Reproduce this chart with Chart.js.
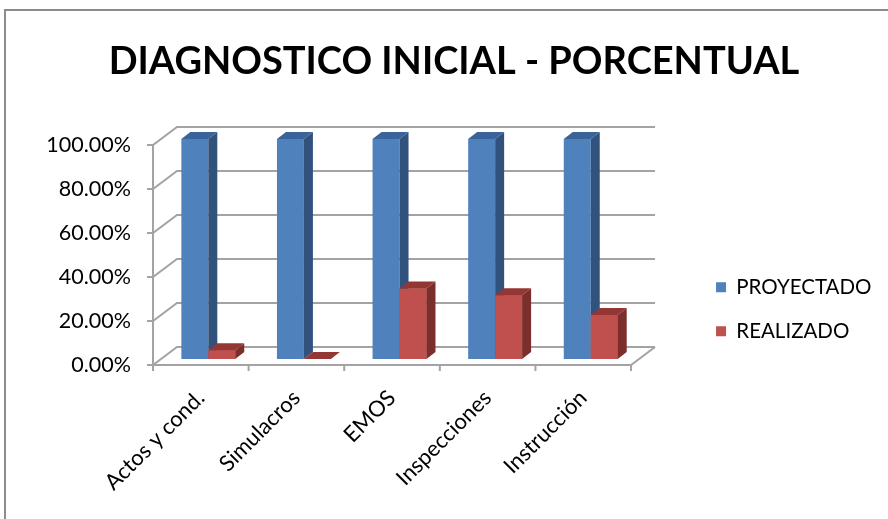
<!DOCTYPE html>
<html>
<head>
<meta charset="utf-8">
<script src="https://cdn.jsdelivr.net/npm/chart.js@4.4.0/dist/chart.umd.min.js"></script>
<style>
  html, body { margin: 0; padding: 0; background: #fff; }
</style>
</head>
<body>
<canvas id="chart" width="888" height="519"></canvas>
<script>
const categories = ['Actos y cond.', 'Simulacros', 'EMOS', 'Inspecciones', 'Instrucción']
const proyectado = [100, 100, 100, 100, 100]
const realizado = [4, 0, 32, 29, 20]
const yTicks = [0, 20, 40, 60, 80, 100]

// fake 3d: depth of the box and of the bars, in px
const depth = { x: 24, y: -18 }
const barDepth = { x: 9, y: -7 }
const barShift = { x: 7.5, y: -6 }
const faceColors = [
  { side: '#30527c', top: '#3a639a' },
  { side: '#7c2e2c', top: '#933634' },
]

function poly(ctx, pts, fill) {
  ctx.fillStyle = fill
  ctx.beginPath()
  ctx.moveTo(pts[0][0], pts[0][1])
  pts.slice(1).forEach(p => ctx.lineTo(p[0], p[1]))
  ctx.closePath()
  ctx.fill()
}

const frame3d = {
  id: 'frame3d',
  beforeDraw(chart) {
    const ctx = chart.ctx
    ctx.save()
    ctx.fillStyle = '#fff'
    ctx.fillRect(0, 0, chart.width, chart.height)
    ctx.strokeStyle = '#8c8c8c'
    ctx.lineWidth = 2
    ctx.strokeRect(5, 10, chart.width + 20, chart.height + 20)
    ctx.restore()
  },
  beforeDatasetsDraw(chart) {
    const { ctx, chartArea: a, scales: { x, y } } = chart
    ctx.save()
    ctx.strokeStyle = '#a3a3a3'
    ctx.lineWidth = 2
    ctx.beginPath()
    y.ticks.forEach(t => {
      const py = y.getPixelForValue(t.value)
      ctx.moveTo(a.left - 6, py)
      ctx.lineTo(a.left, py)
      ctx.lineTo(a.left + depth.x, py + depth.y)
      ctx.lineTo(a.right + depth.x, py + depth.y)
    })
    ctx.moveTo(a.left, a.top)
    ctx.lineTo(a.left, a.bottom)
    ctx.lineTo(a.right, a.bottom)
    ctx.lineTo(a.right + depth.x, a.bottom + depth.y)
    const n = categories.length
    for (let i = 0; i <= n; i++) {
      const px = a.left + i * (a.right - a.left) / n
      ctx.moveTo(px, a.bottom)
      ctx.lineTo(px, a.bottom + 6)
    }
    ctx.stroke()
    ctx.restore()
    // bars sit a bit back inside the box
    ctx.save()
    ctx.translate(barShift.x, barShift.y)
  },
  afterDatasetsDraw(chart) {
    const ctx = chart.ctx
    chart.data.datasets.forEach((ds, i) => {
      const meta = chart.getDatasetMeta(i)
      meta.data.forEach(bar => {
        if (i > 0) bar.draw(ctx)
        const x0 = bar.x - bar.width / 2
        const x1 = bar.x + bar.width / 2
        const top = bar.y
        const base = bar.base
        poly(ctx, [[x1, top], [x1 + barDepth.x, top + barDepth.y], [x1 + barDepth.x, base + barDepth.y], [x1, base]], faceColors[i].side)
        poly(ctx, [[x0, top], [x1, top], [x1 + barDepth.x, top + barDepth.y], [x0 + barDepth.x, top + barDepth.y]], faceColors[i].top)
      })
    })
    ctx.restore()
  }
}

new Chart(document.getElementById('chart'), {
  type: 'bar',
  data: {
    labels: categories,
    datasets: [
      {
        label: 'PROYECTADO',
        data: proyectado,
        backgroundColor: '#4f81bd',
        borderWidth: 0,
        barPercentage: 1,
        categoryPercentage: 0.564,
        clip: false,
      },
      {
        label: 'REALIZADO',
        data: realizado,
        backgroundColor: '#c0504d',
        borderWidth: 0,
        barPercentage: 1,
        categoryPercentage: 0.564,
        clip: false,
      }
    ]
  },
  options: {
    responsive: false,
    animation: false,
    events: [],
    layout: { padding: { top: 10, left: 26.5, right: 6.5, bottom: 0 } },
    plugins: {
      title: {
        display: true,
        text: 'DIAGNOSTICO INICIAL - PORCENTUAL',
        color: '#000',
        font: { family: 'Lato', size: 38, weight: 'bold' },
        padding: { top: 29, bottom: 60.4 }
      },
      legend: {
        position: 'right',
        align: 'end',
        fullSize: false,
        maxWidth: 210,
        labels: {
          boxWidth: 10,
          boxHeight: 10,
          padding: 23.5,
          color: '#000',
          font: { family: 'Lato', size: 20.5 }
        }
      },
      tooltip: { enabled: false }
    },
    scales: {
      x: {
        grid: { display: false, drawTicks: false },
        border: { display: false },
        ticks: {
          minRotation: 45,
          maxRotation: 45,
          padding: 20,
          color: '#000',
          font: { family: 'Lato', size: 22 }
        },
        afterFit: s => { s.height = 154 }
      },
      y: {
        min: 0,
        max: 100,
        grid: { display: false, drawTicks: false },
        border: { display: false },
        ticks: {
          padding: 22,
          color: '#000',
          font: { family: 'Lato', size: 21.5 },
          callback: v => v.toFixed(2) + '%'
        },
        afterBuildTicks: s => { s.ticks = yTicks.map(v => ({ value: v })) },
        afterFit: s => { s.width = 126.5 }
      },
      y2: {
        type: 'linear',
        position: 'right',
        grid: { display: false, drawTicks: false },
        border: { display: false },
        ticks: { display: false },
        afterFit: s => { s.width = 61.5 }
      }
    }
  },
  plugins: [frame3d]
})
</script>
</body>
</html>
